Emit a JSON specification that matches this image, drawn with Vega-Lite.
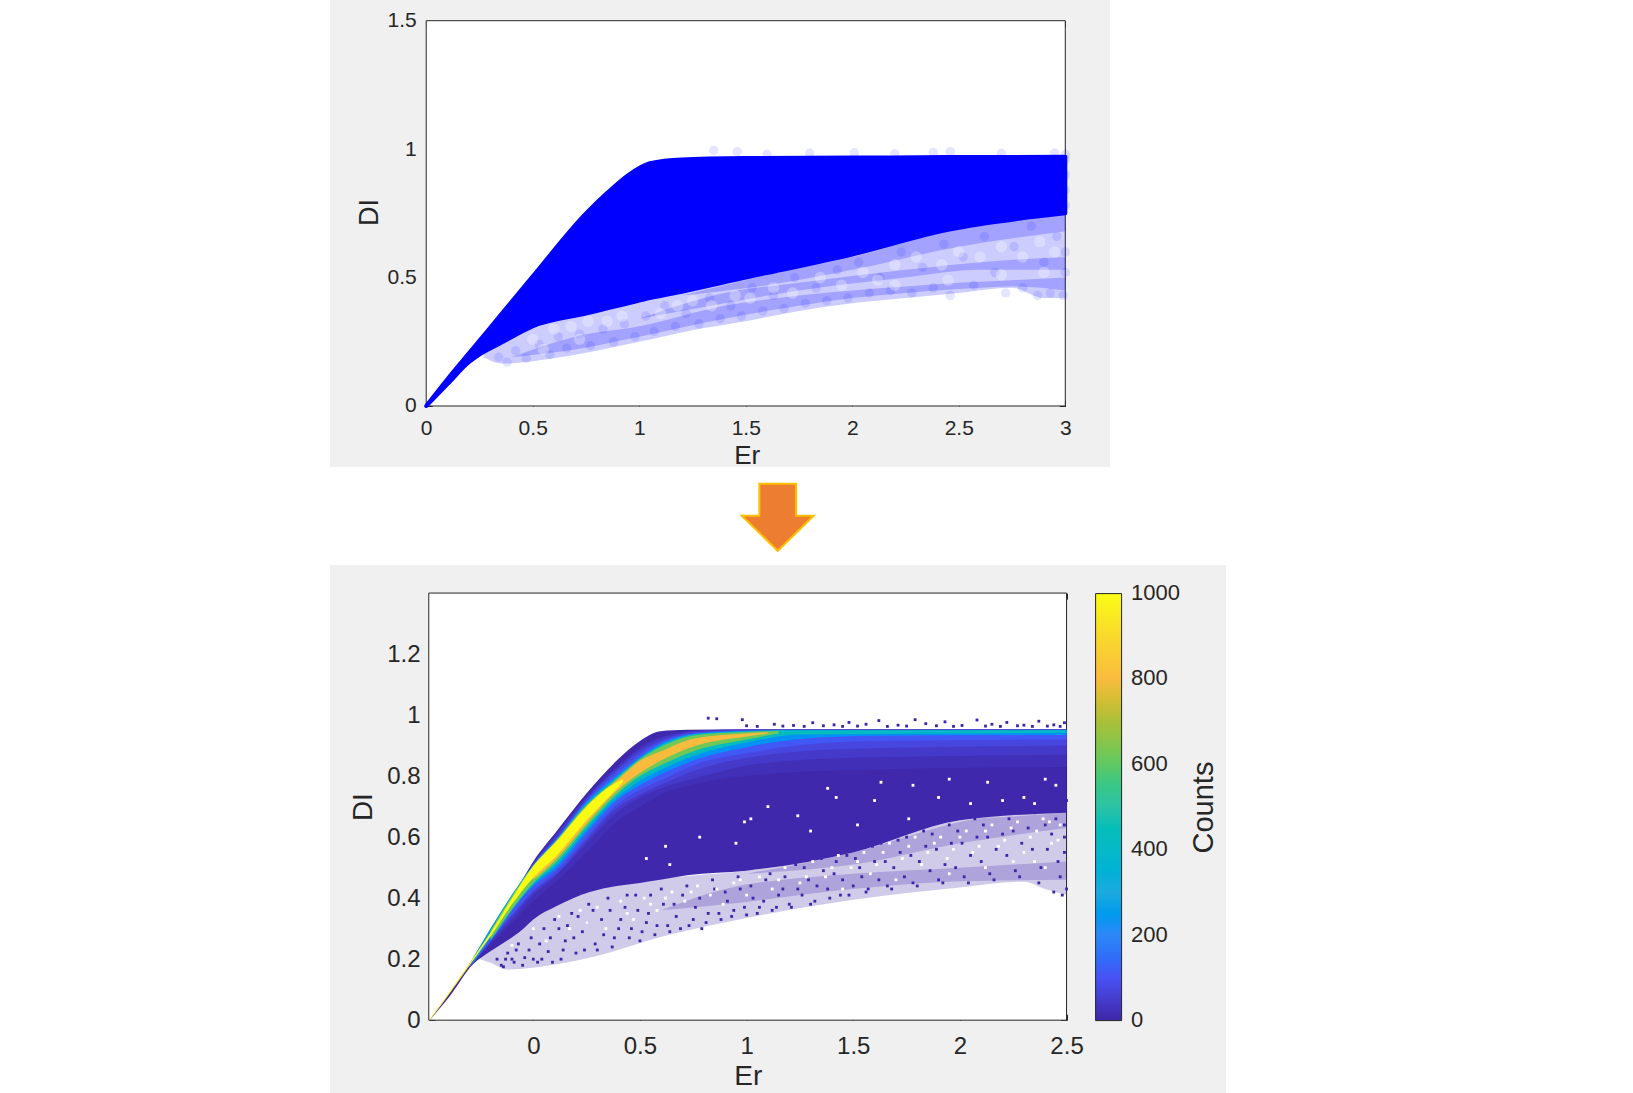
{"$schema":"https://vega.github.io/schema/vega-lite/v6.json","background":"white","padding":{"left":330,"top":0,"right":0,"bottom":0},"spacing":0,"config":{"font":"Liberation Sans","view":{"stroke":null},"axis":{"labelColor":"#262626","titleColor":"#262626","tickColor":"#262626","domain":false,"grid":false,"zindex":1,"labelFontWeight":"normal","titleFontWeight":"normal"}},
"datasets":{
"topFrame":[{"Er":0,"Er2":3,"DI":0,"DI2":1.5}],
"botFrame":[{"Er":-0.49,"Er2":2.5,"DI":0,"DI2":1.4}],
"arrow":[{"a":0.574,"b":0.51}],
"countsLabel":[{"Er":3.144,"DI":0.697,"label":"Counts"}],
"barLabels":[{"Er":2.802,"DI":0,"label":"0"},{"Er":2.802,"DI":0.28,"label":"200"},{"Er":2.802,"DI":0.56,"label":"400"},{"Er":2.802,"DI":0.84,"label":"600"},{"Er":2.802,"DI":1.12,"label":"800"},{"Er":2.802,"DI":1.4,"label":"1000"}],
"topSolid":[{"Er":0,"lo":0,"hi":0},{"Er":0.1,"lo":0.085,"hi":0.105},{"Er":0.2,"lo":0.17,"hi":0.205},{"Er":0.25,"lo":0.2,"hi":0.255},{"Er":0.35,"lo":0.245,"hi":0.355},{"Er":0.5,"lo":0.31,"hi":0.505},{"Er":0.75,"lo":0.36,"hi":0.75},{"Er":0.85,"lo":0.38,"hi":0.83},{"Er":0.95,"lo":0.4,"hi":0.9},{"Er":1.05,"lo":0.42,"hi":0.945},{"Er":1.2,"lo":0.445,"hi":0.96},{"Er":1.5,"lo":0.5,"hi":0.965},{"Er":2,"lo":0.59,"hi":0.967},{"Er":2.45,"lo":0.686,"hi":0.969},{"Er":3,"lo":0.75,"hi":0.97}],
"topFringe":[{"s":"a","Er":0.27,"lo":0.19,"hi":0.215},{"s":"a","Er":0.36,"lo":0.165,"hi":0.25},{"s":"a","Er":0.55,"lo":0.18,"hi":0.315},{"s":"a","Er":0.8,"lo":0.215,"hi":0.37},{"s":"a","Er":1,"lo":0.25,"hi":0.41},{"s":"a","Er":1.25,"lo":0.295,"hi":0.455},{"s":"a","Er":1.5,"lo":0.33,"hi":0.5},{"s":"a","Er":1.75,"lo":0.37,"hi":0.545},{"s":"a","Er":2,"lo":0.4,"hi":0.59},{"s":"a","Er":2.25,"lo":0.42,"hi":0.645},{"s":"a","Er":2.5,"lo":0.44,"hi":0.695},{"s":"a","Er":2.75,"lo":0.46,"hi":0.72},{"s":"a","Er":2.9,"lo":0.42,"hi":0.74},{"s":"a","Er":3,"lo":0.42,"hi":0.75},
{"s":"b","Er":0.4,"lo":0.19,"hi":0.19},{"s":"b","Er":0.7,"lo":0.22,"hi":0.27},{"s":"b","Er":1,"lo":0.27,"hi":0.31},{"s":"b","Er":1.4,"lo":0.34,"hi":0.39},{"s":"b","Er":1.75,"lo":0.39,"hi":0.43},{"s":"b","Er":2,"lo":0.42,"hi":0.45},{"s":"b","Er":2.25,"lo":0.44,"hi":0.465},{"s":"b","Er":2.5,"lo":0.455,"hi":0.48},{"s":"b","Er":2.75,"lo":0.465,"hi":0.49},{"s":"b","Er":3,"lo":0.45,"hi":0.5},
{"s":"c","Er":1,"lo":0.34,"hi":0.34},{"s":"c","Er":1.4,"lo":0.4,"hi":0.44},{"s":"c","Er":1.75,"lo":0.45,"hi":0.48},{"s":"c","Er":2.25,"lo":0.5,"hi":0.53},{"s":"c","Er":2.6,"lo":0.53,"hi":0.56},{"s":"c","Er":3,"lo":0.53,"hi":0.58},
{"s":"d","Er":1.2,"lo":0.43,"hi":0.43},{"s":"d","Er":1.6,"lo":0.47,"hi":0.51},{"s":"d","Er":2,"lo":0.53,"hi":0.58},{"s":"d","Er":2.5,"lo":0.62,"hi":0.69},{"s":"d","Er":3,"lo":0.68,"hi":0.75}],
"topDots":[{"Er":1.35,"DI":0.995},{"Er":1.46,"DI":0.99},{"Er":1.6,"DI":0.98},{"Er":1.8,"DI":0.985},{"Er":2.01,"DI":0.986},{"Er":2.2,"DI":0.982},{"Er":2.38,"DI":0.987},{"Er":2.46,"DI":0.99},{"Er":2.7,"DI":0.984},{"Er":2.95,"DI":0.985},{"Er":3,"DI":0.98},
{"Er":0.34,"DI":0.19},{"Er":0.38,"DI":0.17},{"Er":0.42,"DI":0.215},{"Er":0.47,"DI":0.185},{"Er":0.53,"DI":0.24},{"Er":0.58,"DI":0.2},{"Er":0.62,"DI":0.27},{"Er":0.66,"DI":0.225},{"Er":0.72,"DI":0.28},{"Er":0.77,"DI":0.235},{"Er":0.83,"DI":0.3},{"Er":0.88,"DI":0.25},{"Er":0.93,"DI":0.32},{"Er":0.98,"DI":0.27},{"Er":1.03,"DI":0.35},{"Er":1.07,"DI":0.29},{"Er":1.12,"DI":0.39},{"Er":1.17,"DI":0.31},{"Er":1.22,"DI":0.36},{"Er":1.28,"DI":0.32},{"Er":1.33,"DI":0.42},{"Er":1.38,"DI":0.34},{"Er":1.43,"DI":0.39},{"Er":1.48,"DI":0.35},{"Er":1.53,"DI":0.46},{"Er":1.58,"DI":0.37},{"Er":1.63,"DI":0.43},{"Er":1.68,"DI":0.38},{"Er":1.73,"DI":0.5},{"Er":1.78,"DI":0.4},{"Er":1.83,"DI":0.46},{"Er":1.88,"DI":0.41},{"Er":1.93,"DI":0.53},{"Er":1.98,"DI":0.42},{"Er":2.03,"DI":0.56},{"Er":2.08,"DI":0.44},{"Er":2.13,"DI":0.5},{"Er":2.18,"DI":0.45},{"Er":2.23,"DI":0.6},{"Er":2.28,"DI":0.44},{"Er":2.33,"DI":0.54},{"Er":2.38,"DI":0.46},{"Er":2.43,"DI":0.63},{"Er":2.46,"DI":0.43},{"Er":2.52,"DI":0.58},{"Er":2.57,"DI":0.47},{"Er":2.62,"DI":0.66},{"Er":2.67,"DI":0.52},{"Er":2.72,"DI":0.44},{"Er":2.76,"DI":0.62},{"Er":2.8,"DI":0.46},{"Er":2.84,"DI":0.7},{"Er":2.87,"DI":0.43},{"Er":2.9,"DI":0.56},{"Er":2.93,"DI":0.44},{"Er":2.96,"DI":0.66},{"Er":2.99,"DI":0.43},{"Er":3,"DI":0.52},{"Er":3,"DI":0.6},{"Er":3,"DI":0.96},{"Er":3,"DI":0.9},{"Er":3,"DI":0.84},{"Er":3,"DI":0.78}],
"topHoles":[{"Er":0.6,"DI":0.3},{"Er":0.68,"DI":0.31},{"Er":0.76,"DI":0.33},{"Er":0.5,"DI":0.26},{"Er":0.85,"DI":0.33},{"Er":0.92,"DI":0.35},{"Er":0.55,"DI":0.22},{"Er":0.72,"DI":0.26},{"Er":1.1,"DI":0.36},{"Er":1.18,"DI":0.39},{"Er":1.25,"DI":0.41},{"Er":1.34,"DI":0.39},{"Er":1.45,"DI":0.43},{"Er":1.52,"DI":0.42},{"Er":1.63,"DI":0.46},{"Er":1.72,"DI":0.44},{"Er":1.85,"DI":0.5},{"Er":1.95,"DI":0.47},{"Er":2.05,"DI":0.52},{"Er":2.12,"DI":0.49},{"Er":2.2,"DI":0.55},{"Er":2.3,"DI":0.58},{"Er":2.42,"DI":0.55},{"Er":2.5,"DI":0.6},{"Er":2.6,"DI":0.58},{"Er":2.7,"DI":0.62},{"Er":2.8,"DI":0.58},{"Er":2.88,"DI":0.64},{"Er":2.95,"DI":0.6},{"Er":2.2,"DI":0.47},{"Er":2.45,"DI":0.49},{"Er":2.7,"DI":0.51},{"Er":2.9,"DI":0.52}],
"bands":[
{"Counts":5,"Er":-0.485,"lo":0,"hi":0.002},{"Counts":5,"Er":-0.39,"lo":0.08,"hi":0.092},{"Counts":5,"Er":-0.28,"lo":0.185,"hi":0.205},{"Counts":5,"Er":-0.234,"lo":0.21,"hi":0.255},{"Counts":5,"Er":-0.047,"lo":0.3,"hi":0.465},{"Counts":5,"Er":0,"lo":0.33,"hi":0.52},{"Counts":5,"Er":0.11,"lo":0.374,"hi":0.62},{"Counts":5,"Er":0.265,"lo":0.42,"hi":0.756},{"Counts":5,"Er":0.39,"lo":0.44,"hi":0.85},{"Counts":5,"Er":0.5,"lo":0.45,"hi":0.915},{"Counts":5,"Er":0.595,"lo":0.46,"hi":0.947},{"Counts":5,"Er":0.72,"lo":0.475,"hi":0.952},{"Counts":5,"Er":1,"lo":0.49,"hi":0.953},{"Counts":5,"Er":1.5,"lo":0.55,"hi":0.953},{"Counts":5,"Er":2,"lo":0.655,"hi":0.953},{"Counts":5,"Er":2.5,"lo":0.68,"hi":0.953},
{"Counts":20,"Er":-0.28,"lo":0.19,"hi":0.205},{"Counts":20,"Er":-0.1,"lo":0.32,"hi":0.4},{"Counts":20,"Er":0,"lo":0.39,"hi":0.515},{"Counts":20,"Er":0.1,"lo":0.45,"hi":0.605},{"Counts":20,"Er":0.25,"lo":0.55,"hi":0.735},{"Counts":20,"Er":0.39,"lo":0.65,"hi":0.83},{"Counts":20,"Er":0.5,"lo":0.7,"hi":0.895},{"Counts":20,"Er":0.6,"lo":0.74,"hi":0.93},{"Counts":20,"Er":0.8,"lo":0.78,"hi":0.95},{"Counts":20,"Er":1,"lo":0.8,"hi":0.953},{"Counts":20,"Er":1.5,"lo":0.82,"hi":0.953},{"Counts":20,"Er":2.5,"lo":0.83,"hi":0.953},
{"Counts":45,"Er":-0.28,"lo":0.195,"hi":0.205},{"Counts":45,"Er":-0.1,"lo":0.33,"hi":0.4},{"Counts":45,"Er":0,"lo":0.41,"hi":0.515},{"Counts":45,"Er":0.1,"lo":0.47,"hi":0.6},{"Counts":45,"Er":0.25,"lo":0.58,"hi":0.73},{"Counts":45,"Er":0.39,"lo":0.68,"hi":0.825},{"Counts":45,"Er":0.5,"lo":0.73,"hi":0.89},{"Counts":45,"Er":0.6,"lo":0.76,"hi":0.925},{"Counts":45,"Er":0.8,"lo":0.8,"hi":0.95},{"Counts":45,"Er":1,"lo":0.835,"hi":0.953},{"Counts":45,"Er":1.5,"lo":0.86,"hi":0.953},{"Counts":45,"Er":2.5,"lo":0.87,"hi":0.953},
{"Counts":75,"Er":-0.1,"lo":0.34,"hi":0.398},{"Counts":75,"Er":0,"lo":0.42,"hi":0.512},{"Counts":75,"Er":0.11,"lo":0.48,"hi":0.6},{"Counts":75,"Er":0.25,"lo":0.59,"hi":0.725},{"Counts":75,"Er":0.39,"lo":0.695,"hi":0.82},{"Counts":75,"Er":0.5,"lo":0.74,"hi":0.88},{"Counts":75,"Er":0.61,"lo":0.775,"hi":0.92},{"Counts":75,"Er":0.766,"lo":0.82,"hi":0.945},{"Counts":75,"Er":1,"lo":0.86,"hi":0.95},{"Counts":75,"Er":1.5,"lo":0.89,"hi":0.952},{"Counts":75,"Er":2.5,"lo":0.9,"hi":0.952},
{"Counts":110,"Er":-0.3,"lo":0.17,"hi":0.185},{"Counts":110,"Er":-0.1,"lo":0.345,"hi":0.395},{"Counts":110,"Er":0,"lo":0.425,"hi":0.51},{"Counts":110,"Er":0.11,"lo":0.49,"hi":0.597},{"Counts":110,"Er":0.25,"lo":0.6,"hi":0.72},{"Counts":110,"Er":0.39,"lo":0.705,"hi":0.81},{"Counts":110,"Er":0.5,"lo":0.755,"hi":0.87},{"Counts":110,"Er":0.61,"lo":0.79,"hi":0.915},{"Counts":110,"Er":0.766,"lo":0.84,"hi":0.942},{"Counts":110,"Er":1,"lo":0.875,"hi":0.95},{"Counts":110,"Er":1.23,"lo":0.9,"hi":0.951},{"Counts":110,"Er":1.6,"lo":0.915,"hi":0.951},{"Counts":110,"Er":2.5,"lo":0.92,"hi":0.951},
{"Counts":230,"Er":-0.28,"lo":0.19,"hi":0.208},{"Counts":230,"Er":0,"lo":0.44,"hi":0.508},{"Counts":230,"Er":0.11,"lo":0.5,"hi":0.594},{"Counts":230,"Er":0.25,"lo":0.615,"hi":0.715},{"Counts":230,"Er":0.39,"lo":0.72,"hi":0.8},{"Counts":230,"Er":0.5,"lo":0.77,"hi":0.862},{"Counts":230,"Er":0.61,"lo":0.81,"hi":0.91},{"Counts":230,"Er":0.766,"lo":0.855,"hi":0.94},{"Counts":230,"Er":1,"lo":0.895,"hi":0.948},{"Counts":230,"Er":1.23,"lo":0.92,"hi":0.95},{"Counts":230,"Er":1.6,"lo":0.932,"hi":0.95},{"Counts":230,"Er":2.5,"lo":0.935,"hi":0.95},
{"Counts":430,"Er":-0.2,"lo":0.26,"hi":0.295},{"Counts":430,"Er":0,"lo":0.445,"hi":0.507},{"Counts":430,"Er":0.11,"lo":0.51,"hi":0.592},{"Counts":430,"Er":0.25,"lo":0.625,"hi":0.71},{"Counts":430,"Er":0.39,"lo":0.73,"hi":0.795},{"Counts":430,"Er":0.5,"lo":0.785,"hi":0.858},{"Counts":430,"Er":0.61,"lo":0.825,"hi":0.905},{"Counts":430,"Er":0.766,"lo":0.87,"hi":0.938},{"Counts":430,"Er":1,"lo":0.91,"hi":0.947},{"Counts":430,"Er":1.23,"lo":0.936,"hi":0.95},{"Counts":430,"Er":2.5,"lo":0.942,"hi":0.95},
{"Counts":620,"Er":-0.2,"lo":0.265,"hi":0.293},{"Counts":620,"Er":0,"lo":0.45,"hi":0.506},{"Counts":620,"Er":0.11,"lo":0.52,"hi":0.59},{"Counts":620,"Er":0.25,"lo":0.635,"hi":0.705},{"Counts":620,"Er":0.39,"lo":0.74,"hi":0.79},{"Counts":620,"Er":0.5,"lo":0.8,"hi":0.855},{"Counts":620,"Er":0.61,"lo":0.84,"hi":0.9},{"Counts":620,"Er":0.766,"lo":0.885,"hi":0.935},{"Counts":620,"Er":1,"lo":0.92,"hi":0.945},{"Counts":620,"Er":1.15,"lo":0.94,"hi":0.948},
{"Counts":800,"Er":0,"lo":0.46,"hi":0.505},{"Counts":800,"Er":0.11,"lo":0.53,"hi":0.588},{"Counts":800,"Er":0.25,"lo":0.645,"hi":0.702},{"Counts":800,"Er":0.39,"lo":0.75,"hi":0.785},{"Counts":800,"Er":0.5,"lo":0.81,"hi":0.85},{"Counts":800,"Er":0.61,"lo":0.855,"hi":0.885},{"Counts":800,"Er":0.766,"lo":0.9,"hi":0.925},{"Counts":800,"Er":1,"lo":0.93,"hi":0.94},{"Counts":800,"Er":1.1,"lo":0.94,"hi":0.944},
{"Counts":1000,"Er":-0.485,"lo":0,"hi":0.004},{"Counts":1000,"Er":-0.39,"lo":0.09,"hi":0.096},{"Counts":1000,"Er":-0.28,"lo":0.198,"hi":0.206},{"Counts":1000,"Er":-0.2,"lo":0.275,"hi":0.288},{"Counts":1000,"Er":-0.1,"lo":0.38,"hi":0.4},{"Counts":1000,"Er":0,"lo":0.467,"hi":0.505},{"Counts":1000,"Er":0.11,"lo":0.54,"hi":0.587},{"Counts":1000,"Er":0.25,"lo":0.655,"hi":0.7},{"Counts":1000,"Er":0.345,"lo":0.725,"hi":0.76},{"Counts":1000,"Er":0.42,"lo":0.78,"hi":0.79}],
"botFringe":[{"s":"a","Er":-0.25,"lo":0.2,"hi":0.215},{"s":"a","Er":-0.2,"lo":0.188,"hi":0.24},{"s":"a","Er":-0.125,"lo":0.166,"hi":0.285},{"s":"a","Er":0.11,"lo":0.183,"hi":0.374},{"s":"a","Er":0.297,"lo":0.21,"hi":0.43},{"s":"a","Er":0.61,"lo":0.275,"hi":0.465},{"s":"a","Er":1,"lo":0.335,"hi":0.49},{"s":"a","Er":1.5,"lo":0.395,"hi":0.55},{"s":"a","Er":2,"lo":0.435,"hi":0.655},{"s":"a","Er":2.3,"lo":0.454,"hi":0.67},{"s":"a","Er":2.4,"lo":0.43,"hi":0.675},{"s":"a","Er":2.5,"lo":0.41,"hi":0.68},
{"s":"b","Er":0.6,"lo":0.36,"hi":0.36},{"s":"b","Er":0.9,"lo":0.38,"hi":0.43},{"s":"b","Er":1.5,"lo":0.43,"hi":0.48},{"s":"b","Er":2,"lo":0.455,"hi":0.5},{"s":"b","Er":2.5,"lo":0.46,"hi":0.52},
{"s":"c","Er":1,"lo":0.48,"hi":0.48},{"s":"c","Er":1.5,"lo":0.51,"hi":0.55},{"s":"c","Er":2,"lo":0.58,"hi":0.65},{"s":"c","Er":2.5,"lo":0.63,"hi":0.7}],
"darkDots":[{"Er":0.98,"DI":0.985},{"Er":0.82,"DI":0.99},{"Er":0.86,"DI":0.988},{"Er":1,"DI":0.965},{"Er":1.13,"DI":0.97},{"Er":1.22,"DI":0.966},{"Er":1.31,"DI":0.975},{"Er":1.41,"DI":0.968},{"Er":1.48,"DI":0.976},{"Er":1.56,"DI":0.97},{"Er":1.62,"DI":0.982},{"Er":1.71,"DI":0.967},{"Er":1.79,"DI":0.985},{"Er":1.84,"DI":0.972},{"Er":1.93,"DI":0.978},{"Er":2.01,"DI":0.966},{"Er":2.08,"DI":0.984},{"Er":2.15,"DI":0.97},{"Er":2.22,"DI":0.976},{"Er":2.3,"DI":0.967},{"Er":2.37,"DI":0.98},{"Er":2.44,"DI":0.968},{"Er":2.49,"DI":0.975},
{"Er":1.05,"DI":0.963},{"Er":1.17,"DI":0.964},{"Er":1.27,"DI":0.963},{"Er":1.36,"DI":0.965},{"Er":1.45,"DI":0.963},{"Er":1.52,"DI":0.964},{"Er":1.66,"DI":0.963},{"Er":1.75,"DI":0.964},{"Er":1.89,"DI":0.965},{"Er":1.97,"DI":0.963},{"Er":2.12,"DI":0.964},{"Er":2.19,"DI":0.963},{"Er":2.27,"DI":0.965},{"Er":2.34,"DI":0.963},{"Er":2.41,"DI":0.964},{"Er":2.47,"DI":0.963},
{"Er":-0.17,"DI":0.2},{"Er":-0.14,"DI":0.175},{"Er":-0.12,"DI":0.22},{"Er":-0.09,"DI":0.19},{"Er":-0.07,"DI":0.25},{"Er":-0.04,"DI":0.205},{"Er":-0.01,"DI":0.27},{"Er":0.02,"DI":0.19},{"Er":0.05,"DI":0.3},{"Er":0.07,"DI":0.225},{"Er":0.1,"DI":0.33},{"Er":0.13,"DI":0.2},{"Er":0.15,"DI":0.26},{"Er":0.18,"DI":0.35},{"Er":0.2,"DI":0.22},{"Er":0.23,"DI":0.29},{"Er":0.26,"DI":0.38},{"Er":0.29,"DI":0.25},{"Er":0.32,"DI":0.33},{"Er":0.35,"DI":0.4},{"Er":0.37,"DI":0.24},{"Er":0.4,"DI":0.3},{"Er":0.43,"DI":0.37},{"Er":0.45,"DI":0.27},{"Er":0.48,"DI":0.41},{"Er":0.51,"DI":0.29},{"Er":0.54,"DI":0.35},{"Er":0.57,"DI":0.28},{"Er":0.6,"DI":0.43},{"Er":0.63,"DI":0.31},{"Er":0.66,"DI":0.38},{"Er":0.69,"DI":0.3},{"Er":0.72,"DI":0.44},{"Er":0.75,"DI":0.33},{"Er":0.78,"DI":0.4},{"Er":0.81,"DI":0.32},{"Er":0.84,"DI":0.46},{"Er":0.87,"DI":0.35},{"Er":0.9,"DI":0.42},{"Er":0.93,"DI":0.34},{"Er":0.96,"DI":0.47},{"Er":0.99,"DI":0.37},{"Er":1.02,"DI":0.44},{"Er":1.05,"DI":0.35},{"Er":1.08,"DI":0.39},{"Er":1.11,"DI":0.48},{"Er":1.14,"DI":0.37},{"Er":1.17,"DI":0.43},{"Er":1.2,"DI":0.38},{"Er":1.23,"DI":0.51},{"Er":1.26,"DI":0.41},{"Er":1.29,"DI":0.46},{"Er":1.32,"DI":0.39},{"Er":1.35,"DI":0.53},{"Er":1.38,"DI":0.43},{"Er":1.41,"DI":0.48},{"Er":1.44,"DI":0.41},{"Er":1.47,"DI":0.54},{"Er":1.5,"DI":0.44},{"Er":1.53,"DI":0.5},{"Er":1.56,"DI":0.42},{"Er":1.59,"DI":0.57},{"Er":1.62,"DI":0.46},{"Er":1.65,"DI":0.52},{"Er":1.68,"DI":0.43},{"Er":1.71,"DI":0.59},{"Er":1.74,"DI":0.47},{"Er":1.77,"DI":0.54},{"Er":1.8,"DI":0.44},{"Er":1.83,"DI":0.62},{"Er":1.86,"DI":0.49},{"Er":1.89,"DI":0.56},{"Er":1.92,"DI":0.45},{"Er":1.95,"DI":0.64},{"Er":1.98,"DI":0.5},{"Er":2.01,"DI":0.58},{"Er":2.04,"DI":0.45},{"Er":2.07,"DI":0.66},{"Er":2.1,"DI":0.52},{"Er":2.13,"DI":0.6},{"Er":2.16,"DI":0.46},{"Er":2.19,"DI":0.68},{"Er":2.22,"DI":0.54},{"Er":2.25,"DI":0.62},{"Er":2.28,"DI":0.47},{"Er":2.31,"DI":0.7},{"Er":2.34,"DI":0.56},{"Er":2.37,"DI":0.45},{"Er":2.4,"DI":0.64},{"Er":2.42,"DI":0.72},{"Er":2.44,"DI":0.42},{"Er":2.46,"DI":0.52},{"Er":2.47,"DI":0.74},{"Er":2.48,"DI":0.41},{"Er":2.49,"DI":0.6},{"Er":2.5,"DI":0.72},{"Er":2.5,"DI":0.43},
{"Er":-0.15,"DI":0.18},{"Er":-0.13,"DI":0.2},{"Er":-0.1,"DI":0.2},{"Er":-0.08,"DI":0.23},{"Er":-0.05,"DI":0.18},{"Er":-0.02,"DI":0.23},{"Er":0,"DI":0.2},{"Er":0.03,"DI":0.25},{"Er":0.04,"DI":0.2},{"Er":0.08,"DI":0.27},{"Er":0.09,"DI":0.19},{"Er":0.12,"DI":0.3},{"Er":0.14,"DI":0.23},{"Er":0.16,"DI":0.31},{"Er":0.19,"DI":0.27},{"Er":0.21,"DI":0.34},{"Er":0.24,"DI":0.23},{"Er":0.25,"DI":0.32},{"Er":0.28,"DI":0.36},{"Er":0.3,"DI":0.23},{"Er":0.33,"DI":0.28},{"Er":0.36,"DI":0.36},{"Er":0.38,"DI":0.27},{"Er":0.41,"DI":0.33},{"Er":0.44,"DI":0.41},{"Er":0.46,"DI":0.3},{"Er":0.49,"DI":0.36},{"Er":0.5,"DI":0.26},{"Er":0.53,"DI":0.32},{"Er":0.55,"DI":0.41},{"Er":0.58,"DI":0.31},{"Er":0.61,"DI":0.38},{"Er":0.64,"DI":0.29},{"Er":0.67,"DI":0.34},{"Er":0.7,"DI":0.41},{"Er":0.73,"DI":0.31},{"Er":0.76,"DI":0.37},{"Er":0.79,"DI":0.3},{"Er":0.82,"DI":0.35},{"Er":0.85,"DI":0.43},{"Er":0.88,"DI":0.33},{"Er":0.91,"DI":0.39},{"Er":0.94,"DI":0.36},{"Er":0.97,"DI":0.43},{"Er":1,"DI":0.345},{"Er":1.03,"DI":0.4},{"Er":1.06,"DI":0.37},{"Er":1.09,"DI":0.46},
{"Er":1.12,"DI":0.36},{"Er":1.15,"DI":0.41},{"Er":1.18,"DI":0.47},{"Er":1.21,"DI":0.37},{"Er":1.24,"DI":0.43},{"Er":1.27,"DI":0.5},{"Er":1.3,"DI":0.38},{"Er":1.33,"DI":0.44},{"Er":1.36,"DI":0.49},{"Er":1.39,"DI":0.4},{"Er":1.42,"DI":0.52},{"Er":1.45,"DI":0.46},{"Er":1.48,"DI":0.41},{"Er":1.51,"DI":0.53},{"Er":1.54,"DI":0.47},{"Er":1.57,"DI":0.43},{"Er":1.6,"DI":0.52},{"Er":1.63,"DI":0.58},{"Er":1.66,"DI":0.44},{"Er":1.69,"DI":0.5},{"Er":1.72,"DI":0.55},{"Er":1.75,"DI":0.6},{"Er":1.78,"DI":0.45},{"Er":1.81,"DI":0.52},{"Er":1.84,"DI":0.57},{"Er":1.87,"DI":0.61},{"Er":1.9,"DI":0.46},{"Er":1.93,"DI":0.51},{"Er":1.96,"DI":0.58},{"Er":1.99,"DI":0.62},{"Er":2.02,"DI":0.47},{"Er":2.05,"DI":0.54},{"Er":2.08,"DI":0.6},{"Er":2.11,"DI":0.64},{"Er":2.14,"DI":0.48},{"Er":2.17,"DI":0.56},{"Er":2.2,"DI":0.61},{"Er":2.23,"DI":0.66},{"Er":2.26,"DI":0.49},{"Er":2.29,"DI":0.58},{"Er":2.32,"DI":0.63},{"Er":2.35,"DI":0.68},{"Er":2.38,"DI":0.5},{"Er":2.41,"DI":0.56},{"Er":2.43,"DI":0.61},{"Er":2.45,"DI":0.66},{"Er":2.47,"DI":0.47},{"Er":2.49,"DI":0.55},{"Er":2.49,"DI":0.64},{"Er":2.44,"DI":0.7},{"Er":2.38,"DI":0.72},{"Er":2.33,"DI":0.71},{"Er":2.26,"DI":0.7}],
"whiteDots":[{"Er":1.1,"DI":0.7},{"Er":1.02,"DI":0.66},{"Er":0.99,"DI":0.65},{"Er":1.38,"DI":0.76},{"Er":1.42,"DI":0.73},{"Er":1.63,"DI":0.78},{"Er":1.78,"DI":0.77},{"Er":1.95,"DI":0.79},{"Er":2.13,"DI":0.78},{"Er":2.2,"DI":0.72},{"Er":2.4,"DI":0.79},{"Er":2.45,"DI":0.77},{"Er":0.78,"DI":0.6},{"Er":0.95,"DI":0.58},{"Er":0.53,"DI":0.53},{"Er":0.62,"DI":0.57},{"Er":0.64,"DI":0.51},{"Er":1.3,"DI":0.62},{"Er":1.24,"DI":0.67},{"Er":1.6,"DI":0.72},{"Er":1.9,"DI":0.73},{"Er":2.05,"DI":0.71},{"Er":2.3,"DI":0.73},{"Er":2.35,"DI":0.71},{"Er":1.76,"DI":0.66},{"Er":1.52,"DI":0.64},
{"Er":-0.1,"DI":0.245},{"Er":0,"DI":0.3},{"Er":0.06,"DI":0.26},{"Er":0.12,"DI":0.34},{"Er":0.17,"DI":0.3},{"Er":0.22,"DI":0.36},{"Er":0.3,"DI":0.37},{"Er":0.34,"DI":0.3},{"Er":0.41,"DI":0.39},{"Er":0.47,"DI":0.33},{"Er":0.52,"DI":0.4},{"Er":0.58,"DI":0.36},{"Er":0.65,"DI":0.42},{"Er":0.71,"DI":0.39},{"Er":0.77,"DI":0.44},{"Er":0.83,"DI":0.41},{"Er":0.89,"DI":0.38},{"Er":0.94,"DI":0.45},{"Er":1,"DI":0.41},{"Er":1.06,"DI":0.47},{"Er":1.12,"DI":0.43},{"Er":1.18,"DI":0.5},{"Er":1.25,"DI":0.45},{"Er":1.31,"DI":0.52},{"Er":1.37,"DI":0.47},{"Er":1.43,"DI":0.54},{"Er":1.49,"DI":0.5},{"Er":1.55,"DI":0.55},{"Er":1.61,"DI":0.51},{"Er":1.67,"DI":0.58},{"Er":1.73,"DI":0.53},{"Er":1.79,"DI":0.6},{"Er":1.85,"DI":0.55},{"Er":1.91,"DI":0.6},{"Er":1.97,"DI":0.56},{"Er":2.03,"DI":0.62},{"Er":2.09,"DI":0.57},{"Er":2.15,"DI":0.64},{"Er":2.21,"DI":0.59},{"Er":2.27,"DI":0.65},{"Er":2.33,"DI":0.6},{"Er":2.39,"DI":0.66},{"Er":2.43,"DI":0.58},{"Er":2.47,"DI":0.64},{"Er":1.95,"DI":0.48},{"Er":2.12,"DI":0.5},{"Er":2.35,"DI":0.52},{"Er":1.7,"DI":0.46},{"Er":1.45,"DI":0.43},
{"Er":1.15,"DI":0.46},{"Er":1.28,"DI":0.47},{"Er":1.4,"DI":0.5},{"Er":1.52,"DI":0.52},{"Er":1.58,"DI":0.48},{"Er":1.64,"DI":0.55},{"Er":1.76,"DI":0.57},{"Er":1.82,"DI":0.51},{"Er":1.88,"DI":0.58},{"Er":1.94,"DI":0.53},{"Er":2,"DI":0.6},{"Er":2.06,"DI":0.55},{"Er":2.12,"DI":0.62},{"Er":2.18,"DI":0.57},{"Er":2.24,"DI":0.63},{"Er":2.3,"DI":0.55},{"Er":2.36,"DI":0.62},{"Er":2.42,"DI":0.65},{"Er":2.46,"DI":0.59},{"Er":2.25,"DI":0.52},{"Er":2.4,"DI":0.5},{"Er":0.25,"DI":0.32},{"Er":0.44,"DI":0.35},{"Er":0.55,"DI":0.38},{"Er":0.62,"DI":0.4},{"Er":0.74,"DI":0.42},{"Er":0.86,"DI":0.43},{"Er":0.97,"DI":0.46}]
},
"vconcat":[
{"width":780,"height":467,"view":{"fill":"#f0f0f0"},"resolve":{"axis":{"x":"independent","y":"independent"}},"layer":[
{"data":{"name":"topFrame"},"mark":{"type":"rect","fill":"white","stroke":"#262626","strokeWidth":1},"encoding":{
"x":{"field":"Er","type":"quantitative","scale":{"domain":[-0.4516,3.2099],"nice":false,"zero":false},"axis":{"orient":"bottom","offset":-61,"values":[0,0.5,1,1.5,2,2.5,3],"format":"~g","tickSize":-6,"labelPadding":17,"labelFontSize":21,"labelFlush":false,"labelOverlap":false,"title":"Er","titleFontSize":26,"titleX":416.7,"titleY":49,"titleBaseline":"middle","titleAnchor":null}},
"x2":{"field":"Er2"},
"y":{"field":"DI","type":"quantitative","scale":{"domain":[-0.2375,1.5806],"nice":false,"zero":false},"axis":{"orient":"left","offset":-96.2,"values":[0,0.5,1,1.5],"format":"~g","tickSize":-6,"labelPadding":16,"labelFontSize":21,"labelOverlap":false,"title":"DI","titleFontSize":27,"titleX":-56.5,"titleY":212,"titleBaseline":"middle","titleAnchor":null}},
"y2":{"field":"DI2"}}},
{"data":{"name":"topFrame"},"mark":{"type":"rule","opacity":0},"encoding":{
"x":{"field":"Er","type":"quantitative","axis":{"orient":"top","offset":-20.7,"values":[0,0.5,1,1.5,2,2.5,3],"tickSize":-6,"labels":false,"title":null}},
"y":{"field":"DI","type":"quantitative","axis":{"orient":"right","offset":-44.7,"values":[0,0.5,1,1.5],"tickSize":-6,"labels":false,"title":null}}}},
{"data":{"name":"topFringe"},"mark":{"type":"area","color":"#0000ff","opacity":0.2,"interpolate":"monotone"},"encoding":{"x":{"field":"Er","type":"quantitative","axis":null},"y":{"field":"lo","type":"quantitative","axis":null},"y2":{"field":"hi"},"detail":{"field":"s","type":"nominal"}}},
{"data":{"name":"topDots"},"mark":{"type":"circle","color":"#0000ff","opacity":0.1,"size":90},"encoding":{"x":{"field":"Er","type":"quantitative","axis":null},"y":{"field":"DI","type":"quantitative","axis":null}}},
{"data":{"name":"topHoles"},"mark":{"type":"circle","color":"white","opacity":0.3,"size":130},"encoding":{"x":{"field":"Er","type":"quantitative","axis":null},"y":{"field":"DI","type":"quantitative","axis":null}}},
{"data":{"name":"topSolid"},"mark":{"type":"area","color":"#0000ff","stroke":"#0000ff","strokeWidth":4,"strokeJoin":"round","interpolate":"monotone"},"encoding":{"x":{"field":"Er","type":"quantitative","axis":null},"y":{"field":"lo","type":"quantitative","axis":null},"y2":{"field":"hi"}}}
]},
{"width":780,"height":96.5,"data":{"name":"arrow"},"mark":{"type":"point","shape":"M-0.51,-0.933L0.51,-0.933L0.51,-0.04L1,-0.04L0,0.933L-1,-0.04L-0.51,-0.04Z","size":5184,"filled":true,"fill":"#ed7d31","stroke":"#ffc000","strokeWidth":2,"opacity":1},"encoding":{
"x":{"field":"a","type":"quantitative","scale":{"domain":[0,1],"nice":false},"axis":null},
"y":{"field":"b","type":"quantitative","scale":{"domain":[1,0],"nice":false},"axis":null}}},
{"width":896,"height":529.5,"view":{"fill":"#f0f0f0"},"resolve":{"axis":{"x":"independent","y":"independent"}},"layer":[
{"data":{"name":"botFrame"},"mark":{"type":"rect","fill":"white","stroke":"#262626","strokeWidth":1},"encoding":{
"x":{"field":"Er","type":"quantitative","scale":{"domain":[-0.9531,3.2475],"nice":false,"zero":false},"axis":{"orient":"bottom","offset":-74.3,"values":[0,0.5,1,1.5,2,2.5],"format":"~g","tickSize":-6,"labelPadding":20,"labelFontSize":24,"labelFlush":false,"labelOverlap":false,"title":"Er","titleFontSize":28,"titleX":417.8,"titleY":56,"titleBaseline":"middle","titleAnchor":null}},
"x2":{"field":"Er2"},
"y":{"field":"DI","type":"quantitative","scale":{"domain":[-0.2436,1.492],"nice":false,"zero":false},"axis":{"orient":"left","offset":-99,"values":[0,0.2,0.4,0.6,0.8,1,1.2],"format":"~g","tickSize":-6,"labelPadding":15,"labelFontSize":24,"labelOverlap":false,"title":"DI","titleFontSize":28,"titleX":-65.5,"titleY":241.6,"titleBaseline":"middle","titleAnchor":null}},
"y2":{"field":"DI2"}}},
{"data":{"name":"botFrame"},"mark":{"type":"rule","opacity":0},"encoding":{
"x":{"field":"Er","type":"quantitative","axis":{"orient":"top","offset":-28.1,"values":[0,0.5,1,1.5,2,2.5],"tickSize":-6,"labels":false,"title":null}},
"y":{"field":"DI","type":"quantitative","axis":{"orient":"right","offset":-159.5,"values":[0,0.2,0.4,0.6,0.8,1,1.2],"tickSize":-6,"labels":false,"title":null}}}},
{"data":{"name":"botFringe"},"mark":{"type":"area","color":"#3e26a8","opacity":0.24,"interpolate":"monotone"},"encoding":{"x":{"field":"Er","type":"quantitative","axis":null},"y":{"field":"lo","type":"quantitative","axis":null},"y2":{"field":"hi"},"detail":{"field":"s","type":"nominal"}}},
{"data":{"name":"darkDots"},"mark":{"type":"square","color":"#3e26a8","opacity":1,"size":8},"encoding":{"x":{"field":"Er","type":"quantitative","axis":null},"y":{"field":"DI","type":"quantitative","axis":null}}},
{"data":{"name":"bands"},"mark":{"type":"area","opacity":1,"interpolate":"monotone"},"encoding":{"x":{"field":"Er","type":"quantitative","axis":null},"y":{"field":"lo","type":"quantitative","axis":null},"y2":{"field":"hi"},"detail":{"field":"Counts","type":"nominal"},
"color":{"field":"Counts","type":"quantitative","scale":{"domain":[0,100,200,300,400,500,600,700,800,900,1000],"range":["#3e26a8","#4852f4","#2d87f7","#1caadf","#06b9c8","#2cc2a6","#5ec962","#aabf39","#f9bb3e","#f9d92c","#f9fb15"]},
"legend":{"orient":"none","legendX":765.6,"legendY":593.6,"gradientLength":427,"gradientThickness":26,"title":null,"values":[0,1000],"labelExpr":"''","gradientStrokeColor":"#262626","gradientStrokeWidth":1}}}},
{"data":{"name":"whiteDots"},"mark":{"type":"square","color":"white","opacity":1,"size":8},"encoding":{"x":{"field":"Er","type":"quantitative","axis":null},"y":{"field":"DI","type":"quantitative","axis":null}}},
{"data":{"name":"barLabels"},"mark":{"type":"text","align":"left","baseline":"middle","fontSize":22,"color":"#262626"},"encoding":{"x":{"field":"Er","type":"quantitative","axis":null},"y":{"field":"DI","type":"quantitative","axis":null},"text":{"field":"label"}}},
{"data":{"name":"countsLabel"},"mark":{"type":"text","angle":270,"fontSize":29,"color":"#262626"},"encoding":{"x":{"field":"Er","type":"quantitative","axis":null},"y":{"field":"DI","type":"quantitative","axis":null},"text":{"field":"label"}}}
]}
]}
